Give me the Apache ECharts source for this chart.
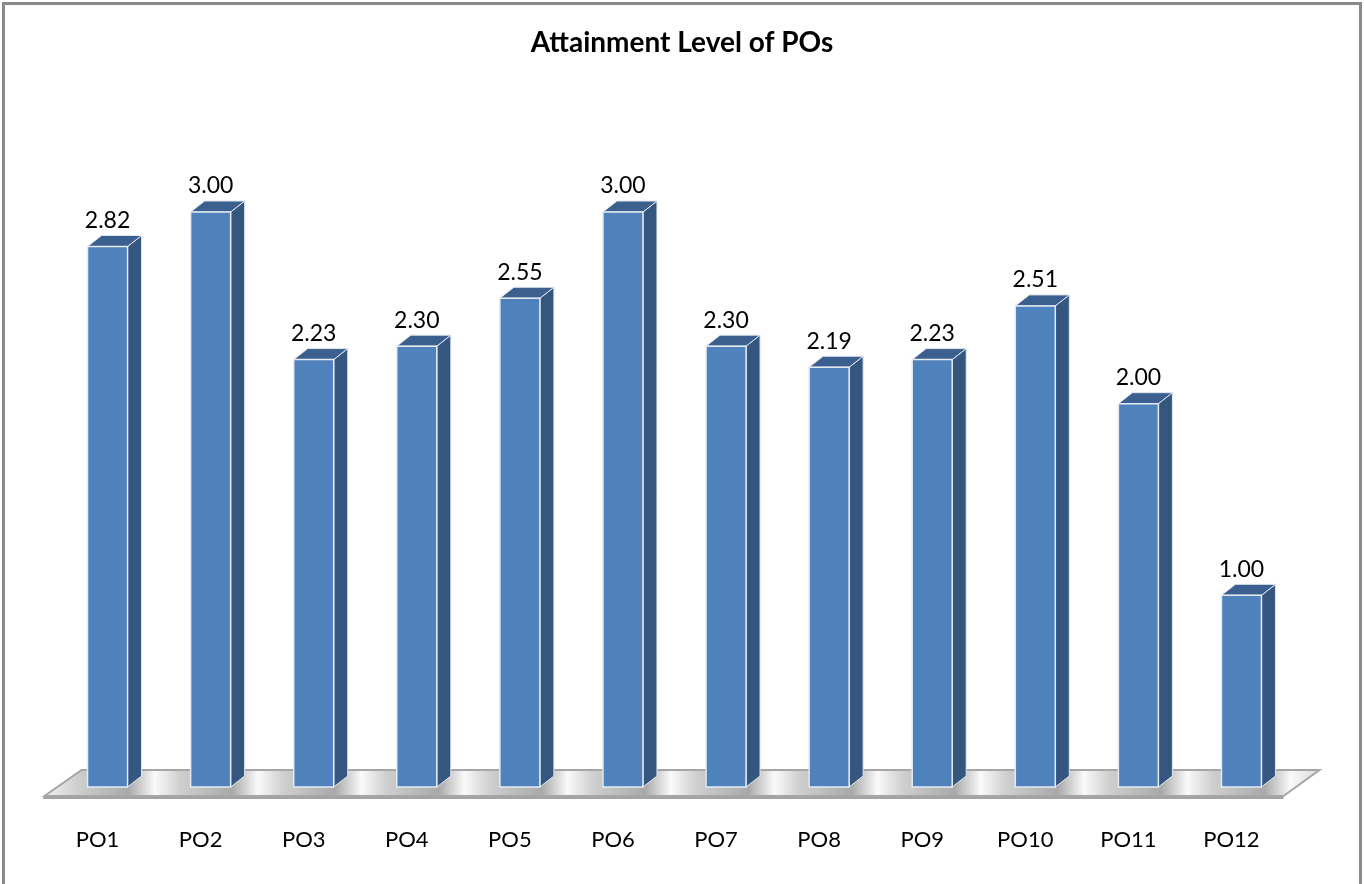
<!DOCTYPE html>
<html>
<head>
<meta charset="utf-8">
<script src="https://cdn.jsdelivr.net/npm/echarts@6/dist/echarts.min.js"></script>
<style>
  html, body { margin: 0; padding: 0; background: #fff; }
  #main { position: absolute; left: 0; top: 0; width: 1364px; height: 884px; }
  /* chart border, like the spreadsheet frame */
  #frame { position: absolute; left: 2px; top: 2px; width: 1360px; height: 900px;
           border: 3px solid #8a8a8a; box-sizing: border-box; pointer-events: none; }
</style>
</head>
<body>
<div id="main"></div>
<div id="frame"></div>
<script>
const categories = ['PO1', 'PO2', 'PO3', 'PO4', 'PO5', 'PO6', 'PO7', 'PO8', 'PO9', 'PO10', 'PO11', 'PO12'];
const attainment = [2.82, 3.00, 2.23, 2.30, 2.55, 3.00, 2.30, 2.19, 2.23, 2.51, 2.00, 1.00];

const FONT = 'Lato, "Open Sans", sans-serif';

var chartDom = document.getElementById('main');
var myChart = echarts.init(chartDom);

// fake 3d column: front face, right side, top
function renderBar(params, api) {
  var top = api.coord([api.value(0), api.value(1)]);
  var base = api.coord([api.value(0), 0]);
  var w = 40, dx = 14, dy = 11;
  var x0 = top[0] - w / 2, x1 = top[0] + w / 2;
  var yt = top[1], yb = base[1];
  return {
    type: 'group',
    children: [
      {
        type: 'polygon',
        shape: { points: [[x1, yt], [x1 + dx, yt - dy], [x1 + dx, yb - dy], [x1, yb]] },
        style: { fill: '#34567f', stroke: '#dfe6ef', lineWidth: 1 }
      },
      {
        type: 'polygon',
        shape: { points: [[x0, yt], [x0 + dx, yt - dy], [x1 + dx, yt - dy], [x1, yt]] },
        style: { fill: '#3b5f8e', stroke: '#dfe6ef', lineWidth: 1 }
      },
      {
        type: 'rect',
        shape: { x: x0, y: yt, width: w, height: yb - yt },
        style: { fill: '#4f81bd', stroke: '#e4ebf3', lineWidth: 1.5 }
      },
      {
        type: 'text',
        style: {
          x: top[0], y: yt - dy - 15,
          text: api.value(1).toFixed(2),
          fill: '#000', font: '23px ' + FONT,
          align: 'center', verticalAlign: 'middle'
        }
      }
    ]
  };
}

// the floor slab under the columns
function renderFloor(params, api) {
  var first = api.coord([0, 0]);
  var last = api.coord([categories.length - 1, 0]);
  var fl = [first[0] - 63, first[1] + 9];
  var fr = [last[0] + 42, first[1] + 9];
  var br = [fr[0] + 36, first[1] - 17];
  var bl = [fl[0] + 37, first[1] - 17];
  var span = br[0] - fl[0];
  var stops = [{ offset: 0, color: '#f4f4f4' }];
  for (var i = 0; i < categories.length; i++) {
    var c = api.coord([i, 0])[0];
    var a = (c - 30 - fl[0]) / span, b = (c + 22 - fl[0]) / span, m = (c + 48 - fl[0]) / span;
    stops.push({ offset: Math.max(0, a), color: '#cfcfcf' });
    stops.push({ offset: b, color: '#a9a9a9' });
    stops.push({ offset: Math.min(1, m), color: '#fafafa' });
  }
  stops.push({ offset: 1, color: '#d8d8d8' });
  return {
    type: 'group',
    children: [
      {
        type: 'polygon',
        shape: { points: [fl, [fr[0], fr[1]], [fr[0], fr[1] + 3], [fl[0] - 2, fl[1] + 3]] },
        style: { fill: '#a3a3a3' }
      },
      {
        type: 'polygon',
        shape: { points: [fl, fr, br, bl] },
        style: {
          fill: new echarts.graphic.LinearGradient(0, 0, 1, 0, stops),
          stroke: '#a6a6a6', lineWidth: 2
        }
      }
    ]
  };
}

var option = {
  backgroundColor: '#ffffff',
  animation: false,
  title: {
    text: 'Attainment Level of POs',
    left: 'center',
    top: 24,
    textStyle: { fontFamily: FONT, fontSize: 28, fontWeight: 'bold', color: '#000' }
  },
  grid: { left: 56, right: 71, top: 212, bottom: 97 },
  xAxis: {
    type: 'category',
    data: categories,
    axisLine: { show: false },
    axisTick: { show: false },
    axisLabel: {
      fontFamily: FONT, fontSize: 22, color: '#000',
      margin: 42, padding: [0, 20, 0, 0]
    }
  },
  yAxis: {
    type: 'value',
    min: 0,
    max: 3,
    show: false,
    splitLine: { show: false }
  },
  series: [
    {
      type: 'custom',
      z: 1,
      renderItem: renderFloor,
      data: [[0]],
      silent: true
    },
    {
      type: 'custom',
      z: 2,
      renderItem: renderBar,
      encode: { x: 0, y: 1 },
      data: attainment.map(function (v, i) { return [i, v]; })
    }
  ]
};

myChart.setOption(option);
</script>
</body>
</html>
